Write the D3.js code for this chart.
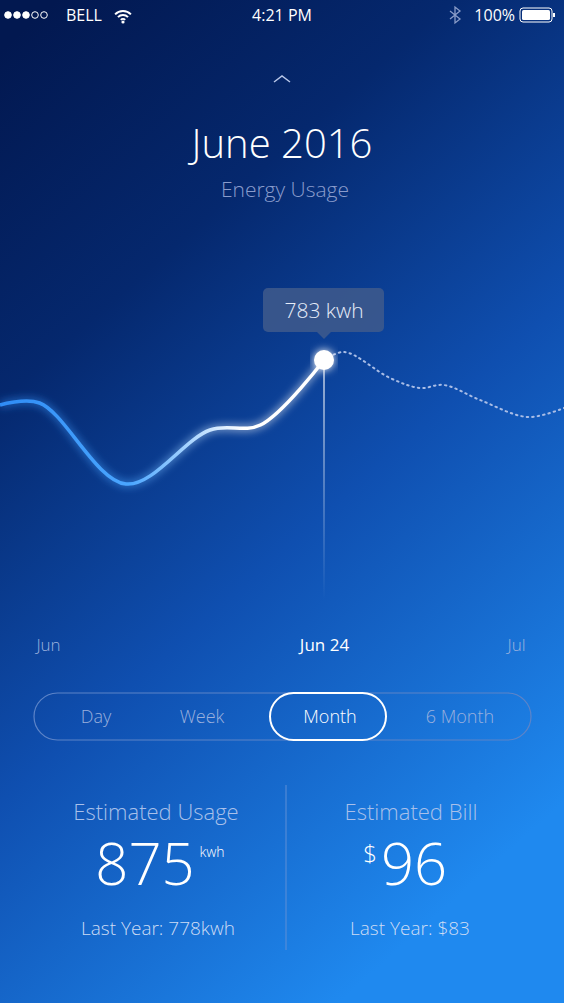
<!DOCTYPE html>
<html><head><meta charset="utf-8">
<script src="https://cdnjs.cloudflare.com/ajax/libs/d3/7.8.5/d3.min.js"></script>
<style>body{margin:0;background:#021a55;font-family:"Open Sans",sans-serif}</style>
</head><body><svg id="c"></svg>
<script>
const W = 564, H = 1003;
// days on the x axis (12px per day), kwh on y
const actualDays = [0, 3.3, 10.5, 17.5, 21.7, 27];
const actualKwh = [738, 740, 659, 713, 718, 783];
const forecastDays = [27, 28.7, 32.5, 35, 37, 40, 44, 47];
const forecastKwh = [783, 791, 765, 755, 758, 743, 726, 735];
const tickDays = [4, 27, 43];
const tickLabels = ['Jun', 'Jun 24', 'Jul'];
const periods = ['Day', 'Week', 'Month', '6 Month'];
const selected = 'Month';

const svg = d3.select('#c').attr('width', W).attr('height', H);
const defs = svg.append('defs');

const bg = defs.append('linearGradient').attr('id', 'bg').attr('x1', 0.1).attr('y1', 0).attr('x2', 0.6).attr('y2', 1);
bg.append('stop').attr('offset', '0').attr('stop-color', '#021850');
bg.append('stop').attr('offset', '0.28').attr('stop-color', '#05286e');
bg.append('stop').attr('offset', '0.6').attr('stop-color', '#0f4fb0');
bg.append('stop').attr('offset', '1').attr('stop-color', '#1f89ef');
svg.append('rect').attr('width', W).attr('height', H).attr('fill', 'url(#bg)');

const lg = defs.append('linearGradient').attr('id', 'lg').attr('gradientUnits', 'userSpaceOnUse')
  .attr('x1', 0).attr('x2', 325).attr('y1', 0).attr('y2', 0);
lg.append('stop').attr('offset', '0').attr('stop-color', '#2f8cf5');
lg.append('stop').attr('offset', '0.4').attr('stop-color', '#4aa6ff');
lg.append('stop').attr('offset', '0.75').attr('stop-color', '#ffffff');
const glow = defs.append('filter').attr('id', 'glow').attr('x', '-20%').attr('y', '-50%').attr('width', '140%').attr('height', '200%');
glow.append('feGaussianBlur').attr('stdDeviation', 4).attr('result', 'b');
const m = glow.append('feMerge');
m.append('feMergeNode').attr('in', 'b');
m.append('feMergeNode').attr('in', 'SourceGraphic');

const vl = defs.append('linearGradient').attr('id', 'vl').attr('x1', 0).attr('x2', 0).attr('y1', 0).attr('y2', 1);
vl.append('stop').attr('offset', '0').attr('stop-color', '#fff').attr('stop-opacity', 0.6);
vl.append('stop').attr('offset', '1').attr('stop-color', '#fff').attr('stop-opacity', 0);

const x = d3.scaleLinear().domain([0, 47]).range([0, W]);
const y = d3.scaleLinear().domain([500, 900]).range([643, 243]);
const line = d3.line().x(d => x(d[0])).y(d => y(d[1])).curve(d3.curveCatmullRom.alpha(0.5));

const white = '#ffffff';
const T = (xx, yy, s, size, fill, anchor = 'middle', weight = 300) =>
  svg.append('text').attr('x', xx).attr('y', yy).attr('font-size', size).attr('fill', fill)
    .attr('text-anchor', anchor).attr('font-weight', weight).text(s);

// status bar
const dots = svg.append('g');
[0, 1, 2, 3, 4].forEach(i => dots.append('circle').attr('cx', 8 + i * 9).attr('cy', 15).attr('r', 3.3)
  .attr('fill', i < 3 ? white : 'none').attr('stroke', white).attr('stroke-width', 1));
T(66, 21, 'BELL', 16, white, 'start', 400);
const wifi = svg.append('g').attr('transform', 'translate(123,22)');
[12, 8, 4].forEach(r => wifi.append('path').attr('d', d3.arc()({innerRadius: r - 2, outerRadius: r, startAngle: -0.8, endAngle: 0.8})).attr('fill', white));
wifi.append('circle').attr('r', 1.6).attr('fill', white);
T(282, 21, '4:21 PM', 16, white, 'middle', 400);
const bt = svg.append('path').attr('d', 'M450,11 L460,19 L455,23 L455,7 L460,11 L450,19')
  .attr('fill', 'none').attr('stroke', '#8a9cc8').attr('stroke-width', 1.3);
T(515, 21, '100%', 16, white, 'end', 400);
svg.append('rect').attr('x', 520).attr('y', 8).attr('width', 32).attr('height', 14).attr('rx', 3).attr('fill', 'none').attr('stroke', white);
svg.append('rect').attr('x', 522).attr('y', 10).attr('width', 28).attr('height', 10).attr('rx', 1.5).attr('fill', white);
svg.append('rect').attr('x', 553).attr('y', 13).attr('width', 2).attr('height', 4).attr('fill', white);

// header
svg.append('path').attr('d', 'M274,82 L282,76 L290,82').attr('fill', 'none').attr('stroke', '#b8c6e8').attr('stroke-width', 1.5);
T(282, 158, 'June 2016', 40, white);
T(285, 197, 'Energy Usage', 21, '#8a9ccc');

// chart
const cx = x(actualDays[actualDays.length - 1]), cy = y(actualKwh[actualKwh.length - 1]);
svg.append('rect').attr('x', cx - 1).attr('y', cy).attr('width', 2).attr('height', 240).attr('fill', 'url(#vl)');
svg.append('path').datum(forecastDays.map((d, i) => [d, forecastKwh[i]])).attr('d', line)
  .attr('fill', 'none').attr('stroke', '#a9bde6').attr('stroke-width', 2).attr('stroke-dasharray', '1.5,4').attr('stroke-linecap', 'round');
svg.append('path').datum(actualDays.map((d, i) => [d, actualKwh[i]])).attr('d', line)
  .attr('fill', 'none').attr('stroke', 'url(#lg)').attr('stroke-width', 3.5).attr('filter', 'url(#glow)');
svg.append('circle').attr('cx', cx).attr('cy', cy).attr('r', 10).attr('fill', white).attr('filter', 'url(#glow)');

// tooltip
const tip = svg.append('g').attr('transform', `translate(${cx},${cy - 14})`);
tip.append('rect').attr('x', -61).attr('y', -58).attr('width', 121).attr('height', 44).attr('rx', 5).attr('fill', '#3f5a8c').attr('opacity', 0.85);
tip.append('path').attr('d', 'M-7,-14 L0,-7 L7,-14Z').attr('fill', '#3f5a8c').attr('opacity', 0.85);
tip.append('text').attr('y', -28).attr('text-anchor', 'middle').attr('font-size', 21).attr('fill', '#e6ecf8').attr('font-weight', 300).text(`${actualKwh[actualKwh.length - 1]} kwh`);

// axis
const ax = svg.append('g').attr('transform', 'translate(0,648)')
  .call(d3.axisBottom(x).tickValues(tickDays).tickSize(0).tickFormat((d, i) => tickLabels[i]));
ax.select('.domain').remove();
ax.selectAll('text').attr('font-size', 17).attr('font-family', '"Open Sans",sans-serif')
  .attr('fill', (d, i) => i === 1 ? white : '#9fb3df').attr('font-weight', (d, i) => i === 1 ? 400 : 300).attr('dy', 0);

// period selector
svg.append('rect').attr('x', 34).attr('y', 693).attr('width', 497).attr('height', 47).attr('rx', 23.5)
  .attr('fill', 'none').attr('stroke', '#5d84c8').attr('stroke-width', 1.2);
const pxPos = {Day: 96, Week: 202, Month: 330, '6 Month': 460};
periods.forEach(p => {
  if (p === selected) svg.append('rect').attr('x', pxPos[p] - 60).attr('y', 693).attr('width', 116).attr('height', 47).attr('rx', 23.5)
    .attr('fill', 'none').attr('stroke', white).attr('stroke-width', 2);
  T(pxPos[p], 723, p, 18, p === selected ? white : '#9ab0dd');
});

// stats
svg.append('line').attr('x1', 286).attr('x2', 286).attr('y1', 785).attr('y2', 950).attr('stroke', '#5f8fd6').attr('stroke-width', 1);
T(156, 820, 'Estimated Usage', 22, '#a9c0ea');
T(145, 885, '875', 58, white);
T(212, 857, 'kwh', 14, white, 'middle', 300);
T(158, 935, 'Last Year: 778kwh', 19, '#cddcf5');
T(411, 820, 'Estimated Bill', 22, '#a9c0ea');
T(370, 862, '$', 24, white);
T(414, 885, '96', 58, white);
T(410, 935, 'Last Year: $83', 19, '#cddcf5');
</script></body></html>
